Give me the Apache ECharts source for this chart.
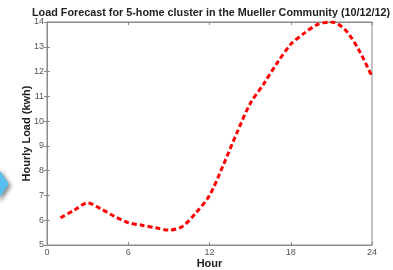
<!DOCTYPE html>
<html>
<head>
<meta charset="utf-8">
<script src="https://cdn.jsdelivr.net/npm/echarts@6/dist/echarts.min.js"></script>
<style>
  html, body { margin: 0; padding: 0; background: #fff; }
  #chart { width: 393px; height: 270px; }
</style>
</head>
<body>
<div id="chart"></div>
<script>
  const hours = [1, 2, 3, 4, 5, 6, 7, 8, 9, 10, 11, 12, 13, 14, 15, 16, 17, 18, 19, 20, 21, 22, 23, 24];
  const load = [6.1, 6.4, 6.7, 6.45, 6.15, 5.9, 5.8, 5.7, 5.6, 5.75, 6.3, 7.0, 8.2, 9.5, 10.7, 11.5, 12.35, 13.1, 13.55, 13.9, 14.0, 13.7, 12.9, 11.8];
  const xTicks = [0, 6, 12, 18, 24];
  const yTicks = [5, 6, 7, 8, 9, 10, 11, 12, 13, 14];

  const chart = echarts.init(document.getElementById('chart'));
  const axisGray = '#8a8a8a';
  const labelGray = '#555';

  const option = {
    animation: false,
    title: {
      text: 'Load Forecast for 5-home cluster in the Mueller Community (10/12/12)',
      left: 27,
      top: 3,
      textStyle: { fontFamily: 'Liberation Sans', fontSize: 10.8, fontWeight: 'bold', color: '#222' }
    },
    grid: {
      left: 47, right: 21, top: 22, bottom: 25,
      outerBoundsMode: 'none', containLabel: false,
      show: true, borderColor: axisGray, borderWidth: 1
    },
    graphic: [{
      type: 'polygon',
      shape: { points: [[-2, 168], [9, 184], [-2, 200]] },
      style: { fill: '#5bbcf0', shadowBlur: 4, shadowColor: 'rgba(0,0,0,0.5)', shadowOffsetX: 2, shadowOffsetY: 2 }
    }],
    xAxis: [{
      type: 'value', min: xTicks[0], max: xTicks[xTicks.length - 1], interval: 6,
      name: 'Hour', nameLocation: 'middle', nameGap: 13, nameMoveOverlap: false,
      nameTextStyle: { fontFamily: 'Liberation Sans', fontSize: 11, fontWeight: 'bold', color: '#222' },
      axisLine: { lineStyle: { color: axisGray } },
      axisTick: { inside: true, length: 3, lineStyle: { color: axisGray } },
      axisLabel: { fontFamily: 'Liberation Sans', fontSize: 9, color: labelGray, margin: 3 },
      splitLine: { show: false }
    }, {
      type: 'value', position: 'top', min: 0, max: 24, interval: 6,
      axisLine: { lineStyle: { color: axisGray } },
      axisTick: { inside: true, length: 3, lineStyle: { color: axisGray } },
      axisLabel: { show: false }, splitLine: { show: false }
    }],
    yAxis: [{
      type: 'value', min: yTicks[0], max: yTicks[yTicks.length - 1], interval: 1,
      name: 'Hourly Load (kwh)', nameLocation: 'middle', nameGap: 15, nameRotate: 90, nameMoveOverlap: false,
      nameTextStyle: { fontFamily: 'Liberation Sans', fontSize: 11, fontWeight: 'bold', color: '#222' },
      axisLine: { show: true, lineStyle: { color: axisGray } },
      axisTick: { show: true, inside: true, length: 3, lineStyle: { color: axisGray } },
      axisLabel: { fontFamily: 'Liberation Sans', fontSize: 9, color: labelGray, margin: 3 },
      splitLine: { show: false }
    }, {
      type: 'value', position: 'right', min: 5, max: 14, interval: 1,
      axisLine: { show: true, lineStyle: { color: axisGray } },
      axisTick: { show: true, inside: true, length: 3, lineStyle: { color: axisGray } },
      axisLabel: { show: false }, splitLine: { show: false }
    }],
    series: [{
      type: 'line',
      data: hours.map((h, i) => [h, load[i]]),
      smooth: 0.3,
      symbol: 'none',
      lineStyle: { color: '#ff0000', width: 3, type: [5, 3] }
    }]
  };

  chart.setOption(option);
  window.addEventListener('resize', () => { chart.resize(); });
</script>
</body>
</html>
